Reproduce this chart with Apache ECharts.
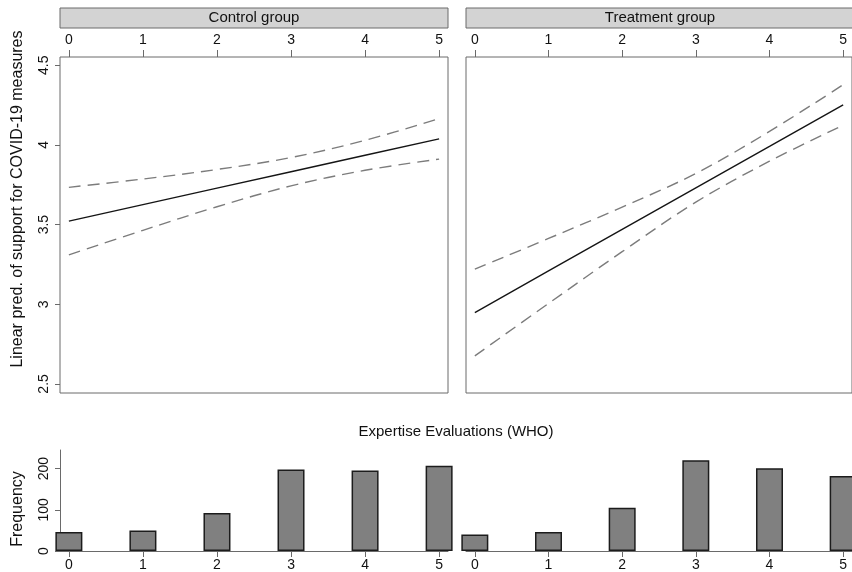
<!DOCTYPE html>
<html>
<head>
<meta charset="utf-8">
<script src="https://cdn.jsdelivr.net/npm/echarts@6/dist/echarts.min.js"></script>
<style>
html,body{margin:0;padding:0;background:#fff;}
#chart{width:852px;height:572px;}
</style>
</head>
<body>
<div id="chart"></div>
<script>
// Expertise evaluation levels (x values)
var levels = [0, 1, 2, 3, 4, 5];
var panelTitles = ['Control group', 'Treatment group'];
var yTicks = [2.5, 3, 3.5, 4, 4.5];
var freqTicks = [0, 100, 200];

// Linear prediction with 95% CI — Control group
var controlPred  = [3.522, 3.625, 3.729, 3.832, 3.935, 4.038];
var controlUpper = [3.734, 3.786, 3.846, 3.921, 4.029, 4.165];
var controlLower = [3.310, 3.464, 3.612, 3.743, 3.841, 3.911];

// Linear prediction with 95% CI — Treatment group
var treatPred  = [2.948, 3.209, 3.470, 3.731, 3.991, 4.252];
var treatUpper = [3.220, 3.413, 3.610, 3.821, 4.085, 4.378];
var treatLower = [2.676, 3.005, 3.330, 3.641, 3.898, 4.124];

// Histogram frequencies
var controlFreq = [46, 50, 92, 198, 195, 207];
var treatFreq   = [40, 46, 105, 220, 201, 182];

var FONT = 'Liberation Sans, Arial, Helvetica, sans-serif';

function pairs(xs, ys) { return xs.map(function (x, i) { return [x, ys[i]]; }); }

var chart = echarts.init(document.getElementById('chart'), null, {renderer: 'canvas'});

var gridDefs = [
  {left: 60, top: 57, width: 388, height: 336, show: true, borderColor: '#6a6a6a', borderWidth: 1},
  {left: 466, top: 57, width: 388, height: 336, show: true, borderColor: '#6a6a6a', borderWidth: 1},
  {left: 60, top: 450, width: 388, height: 102, show: false},
  {left: 466, top: 450, width: 388, height: 102, show: false}
];

var labelStyle = {fontFamily: FONT, fontSize: 14, color: '#111'};

function topX(gi) {
  return {
    type: 'value', gridIndex: gi, position: 'top', min: -0.12, max: 5.12,
    axisLine: {show: false, onZero: false},
    axisTick: {show: true, inside: false, length: 7, customValues: levels, lineStyle: {color: '#6a6a6a', width: 1}},
    axisLabel: Object.assign({show: true, margin: 10, customValues: levels}, labelStyle),
    splitLine: {show: false}
  };
}
function botX(gi) {
  return {
    type: 'value', gridIndex: gi, position: 'bottom', min: -0.12, max: 5.12,
    axisLine: {show: true, onZero: false, lineStyle: {color: '#6a6a6a', width: 1}},
    axisTick: {show: true, inside: false, length: 6, customValues: levels, lineStyle: {color: '#6a6a6a', width: 1}},
    axisLabel: Object.assign({show: true, margin: 7, customValues: levels}, labelStyle),
    splitLine: {show: false}
  };
}
function predY(gi, showLabels) {
  return {
    type: 'value', gridIndex: gi, position: 'left', min: 2.443, max: 4.552,
    axisLine: {show: false, onZero: false},
    axisTick: {show: showLabels, inside: false, length: 5, customValues: yTicks, lineStyle: {color: '#6a6a6a', width: 1}},
    axisLabel: Object.assign({show: showLabels, rotate: 90, margin: 9, customValues: yTicks}, labelStyle),
    splitLine: {show: false}
  };
}
function freqY(gi, showLabels) {
  return {
    type: 'value', gridIndex: gi, position: 'left', min: 0, max: 245,
    axisLine: {show: showLabels, onZero: false, lineStyle: {color: '#6a6a6a', width: 1}},
    axisTick: {show: showLabels, inside: false, length: 5, customValues: freqTicks, lineStyle: {color: '#6a6a6a', width: 1}},
    axisLabel: Object.assign({show: showLabels, rotate: 90, margin: 9, customValues: freqTicks}, labelStyle),
    splitLine: {show: false}
  };
}

function lineSeries(idx, data, dashed) {
  return {
    type: 'line', xAxisIndex: idx, yAxisIndex: idx, data: data,
    showSymbol: false, symbol: 'none', smooth: dashed ? 0.35 : false, silent: true,
    lineStyle: dashed ? {color: '#7c7c7c', width: 1.4, type: [12, 7]} : {color: '#151515', width: 1.4}
  };
}
function barSeries(idx, data) {
  return {
    type: 'bar', xAxisIndex: idx, yAxisIndex: idx, data: data, barWidth: 27, silent: true,
    itemStyle: {color: '#808080', borderColor: '#1c1c1c', borderWidth: 1.5}
  };
}

var option = {
  animation: false,
  backgroundColor: '#ffffff',
  grid: gridDefs,
  xAxis: [topX(0), topX(1), botX(2), botX(3)],
  yAxis: [predY(0, true), predY(1, false), freqY(2, true), freqY(3, false)],
  series: [
    lineSeries(0, pairs(levels, controlUpper), true),
    lineSeries(0, pairs(levels, controlLower), true),
    lineSeries(0, pairs(levels, controlPred), false),
    lineSeries(1, pairs(levels, treatUpper), true),
    lineSeries(1, pairs(levels, treatLower), true),
    lineSeries(1, pairs(levels, treatPred), false),
    barSeries(2, pairs(levels, controlFreq)),
    barSeries(3, pairs(levels, treatFreq))
  ],
  graphic: [
    {type: 'rect', shape: {x: 60, y: 8, width: 388, height: 20}, style: {fill: '#d3d3d3', stroke: '#6a6a6a', lineWidth: 1}},
    {type: 'rect', shape: {x: 466, y: 8, width: 390, height: 20}, style: {fill: '#d3d3d3', stroke: '#6a6a6a', lineWidth: 1}},
    {type: 'text', x: 254, y: 18, style: {text: panelTitles[0], font: '15px ' + FONT, fill: '#111', textAlign: 'center', textVerticalAlign: 'middle'}},
    {type: 'text', x: 660, y: 18, style: {text: panelTitles[1], font: '15px ' + FONT, fill: '#111', textAlign: 'center', textVerticalAlign: 'middle'}},
    {type: 'text', x: 18, y: 199, rotation: Math.PI / 2, style: {text: 'Linear pred. of support for COVID-19 measures', font: '16px ' + FONT, fill: '#111', textAlign: 'center', textVerticalAlign: 'middle'}},
    {type: 'text', x: 18, y: 509, rotation: Math.PI / 2, style: {text: 'Frequency', font: '16px ' + FONT, fill: '#111', textAlign: 'center', textVerticalAlign: 'middle'}},
    {type: 'text', x: 456, y: 432, style: {text: 'Expertise Evaluations (WHO)', font: '15px ' + FONT, fill: '#111', textAlign: 'center', textVerticalAlign: 'middle'}}
  ]
};
chart.setOption(option);
</script>
</body>
</html>
